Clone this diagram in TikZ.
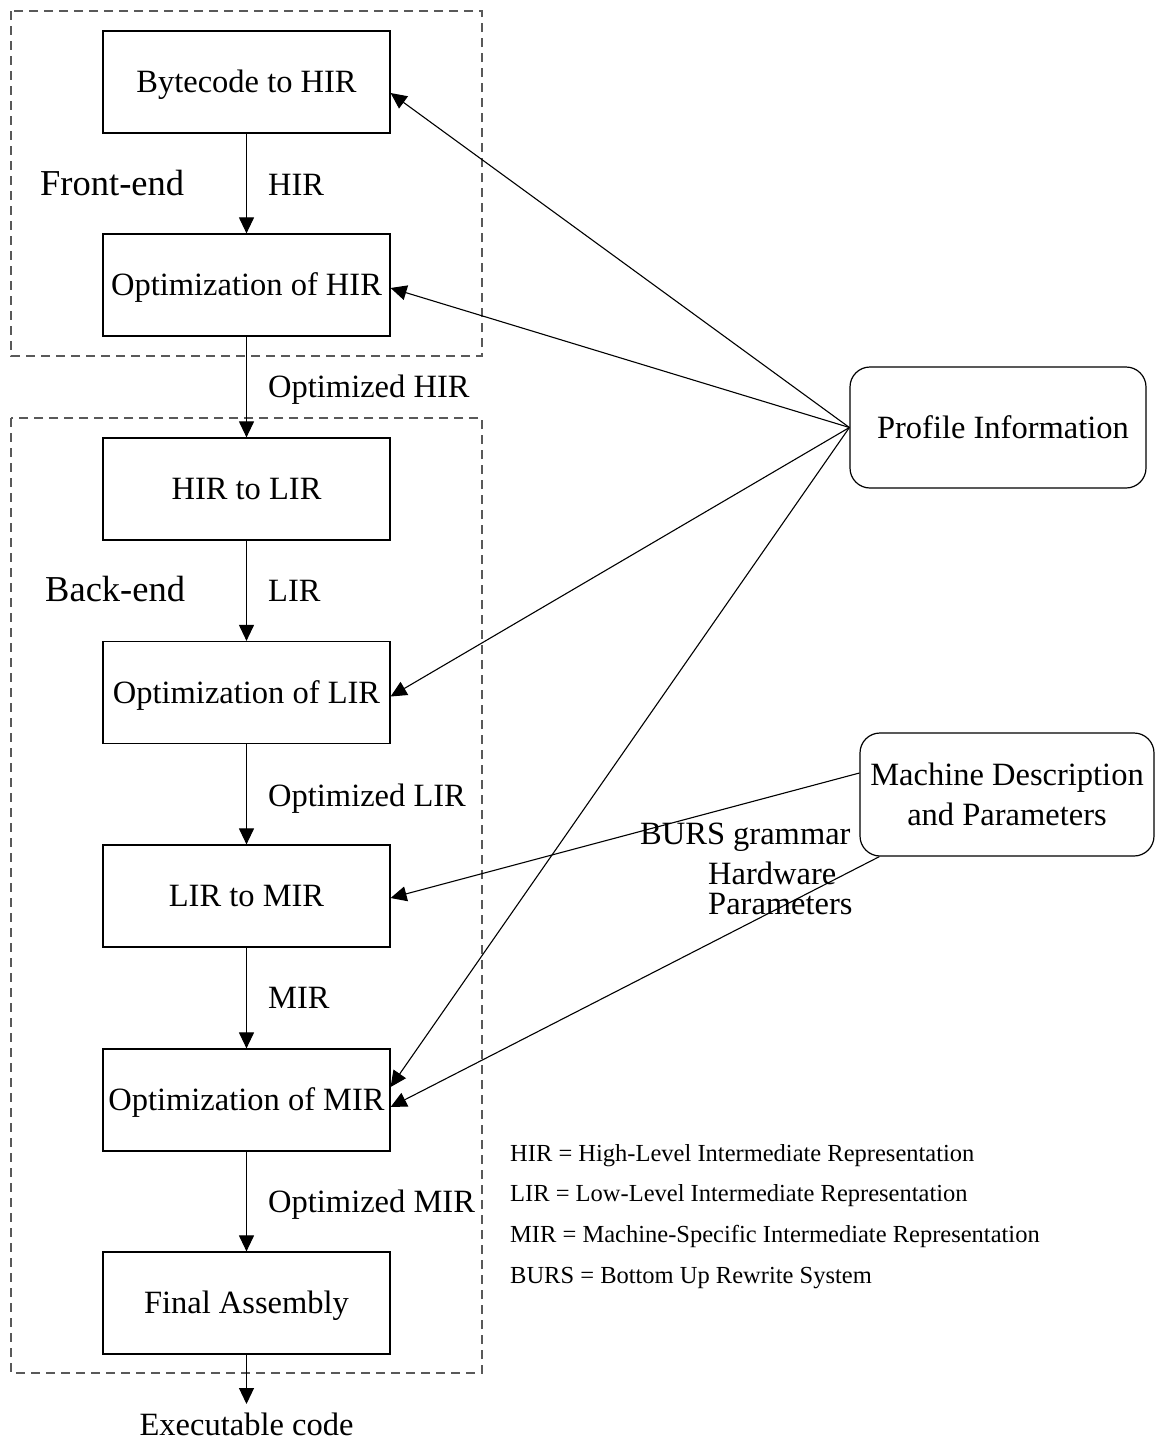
\documentclass[tikz,border=0pt]{standalone}
\usepackage{fontspec}
\setmainfont{Liberation Serif}
\usetikzlibrary{arrows.meta}
\newcommand\mainfs{\fontsize{32.5}{40}\selectfont}
\newcommand\bigfs{\fontsize{36.5}{44}\selectfont}
\newcommand\legfs{\fontsize{24.5}{30}\selectfont}
\begin{document}
\begin{tikzpicture}[x=1pt,y=-1pt,
  stage/.style={draw, line width=1.2pt, minimum width=287pt, minimum height=102pt, font=\mainfs, text height=21.5pt, text depth=0pt, inner sep=0pt},
  src/.style={draw, line width=1.2pt, rounded corners=20pt, font=\mainfs, inner sep=0pt},
  flow/.style={line width=1.1pt, -{Triangle[length=16pt,width=15pt]}},
  frame/.style={draw=black!65, line width=1.2pt, dash pattern=on 9pt off 6pt},
  lbl/.style={font=\mainfs, anchor=base west, inner sep=0pt},
  biglbl/.style={font=\bigfs, anchor=base west, inner sep=0pt},
  leg/.style={font=\legfs, anchor=base west, inner sep=0pt}]
\useasboundingbox (0,0) rectangle (1155,1441);

% dashed frames
\draw[frame] (11,11) rectangle (482,356);
\draw[frame] (11,418) rectangle (482,1373);

% stages
\node[stage] (b1) at (246.5,82) {Bytecode to HIR};
\node[stage] (b2) at (246.5,285) {Optimization of HIR};
\node[stage] (b3) at (246.5,489) {HIR to LIR};
\node[stage] (b4) at (246.5,692.5) {Optimization of LIR};
\node[stage] (b5) at (246.5,896) {LIR to MIR};
\node[stage] (b6) at (246.5,1100) {Optimization of MIR};
\node[stage] (b7) at (246.5,1303) {Final Assembly};
\node[font=\mainfs, anchor=north, text height=21.5pt, text depth=0pt, inner xsep=0pt, inner ysep=10pt] (exe) at (246.5,1404) {Executable code};

% sources
\node[src, minimum width=296pt, minimum height=121pt] (pi) at (998,427.5) {\hspace*{10pt}Profile Information};
\node[src, minimum width=294pt, minimum height=123pt, align=center] (md) at (1007,794.5) {Machine Description\\and Parameters\hspace*{0pt}};

% main flow
\draw[flow] (b1) -- (b2);
\draw[flow] (b2) -- (b3);
\draw[flow] (b3) -- (b4);
\draw[flow] (b4) -- (b5);
\draw[flow] (b5) -- (b6);
\draw[flow] (b6) -- (b7);
\draw[flow] (b7) -- (exe);

% profile information arrows
\coordinate (pw) at (pi.west);
\draw[flow] (pw) -- ([yshift=-11pt]b1.east);
\draw[flow] (pw) -- ([yshift=-3pt]b2.east);
\draw[flow] (pw) -- ([yshift=-4pt]b4.east);
\draw[flow] (pw) -- ([yshift=13pt]b6.east);

% machine description arrows
\draw[flow] ([yshift=21.5pt]md.west) -- ([yshift=-2pt]b5.east);
\draw[flow] ([xshift=20pt]md.south west) -- ([yshift=-7pt]b6.east);

% labels
\node[biglbl] (fe) at (40,195) {Front-end};
\node[biglbl] (be) at (45,601) {Back-end};
\node[lbl] (l1) at (268,195) {HIR};
\node[lbl] (l2) at (268,397) {Optimized HIR};
\node[lbl] (l3) at (268,601) {LIR};
\node[lbl] (l4) at (268,806) {Optimized LIR};
\node[lbl] (l5) at (268,1008) {MIR};
\node[lbl] (l6) at (268,1212) {Optimized MIR};
\node[lbl] (burs) at (640,844) {BURS grammar};
\node[lbl] (hw1) at (708,884) {Hardware};
\node[lbl] (hw2) at (708,914) {Parameters};

% legend
\node[leg] (g1) at (510,1161) {HIR = High-Level Intermediate Representation};
\node[leg] (g2) at (510,1201) {LIR = Low-Level Intermediate Representation};
\node[leg] (g3) at (510,1242) {MIR = Machine-Specific Intermediate Representation};
\node[leg] (g4) at (510,1283) {BURS = Bottom Up Rewrite System};
\end{tikzpicture}
\end{document}
